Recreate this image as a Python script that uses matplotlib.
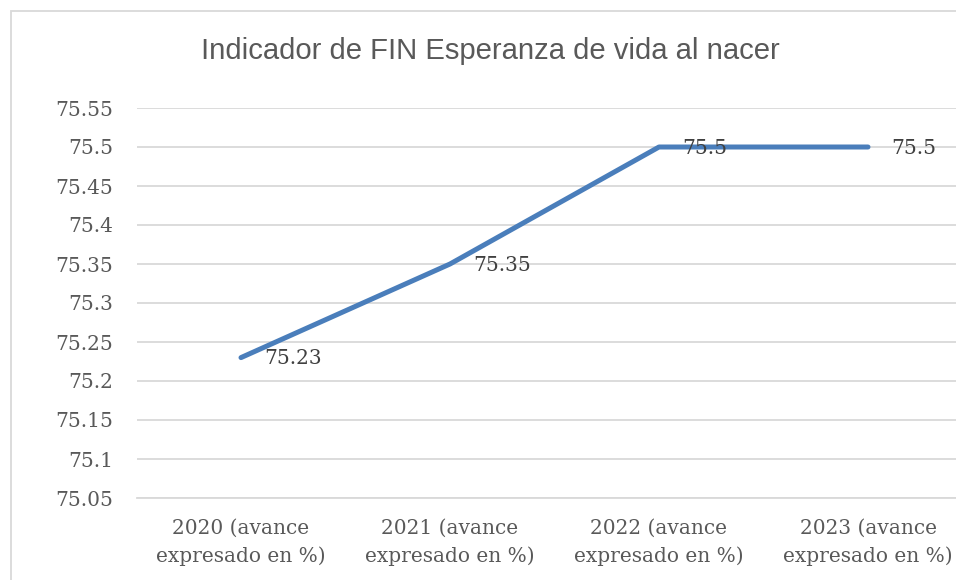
import matplotlib
matplotlib.use("Agg")
import matplotlib.pyplot as plt
from matplotlib.patches import Rectangle

categories = ["2020 (avance\nexpresado en %)", "2021 (avance\nexpresado en %)",
              "2022 (avance\nexpresado en %)", "2023 (avance\nexpresado en %)"]
values = [75.23, 75.35, 75.5, 75.5]
labels = ["75.23", "75.35", "75.5", "75.5"]
yticks = [75.05, 75.1, 75.15, 75.2, 75.25, 75.3, 75.35, 75.4, 75.45, 75.5, 75.55]
ytick_labels = ["75.05", "75.1", "75.15", "75.2", "75.25", "75.3", "75.35",
                "75.4", "75.45", "75.5", "75.55"]

W, H = 956, 580
fig = plt.figure(figsize=(W / 100, H / 100), dpi=100)
fig.patch.set_facecolor("white")

# chart border (cropped at right and bottom)
fig.patches.append(Rectangle((11 / W, -0.1), 2.0, 1 - 11 / H + 0.1,
                             transform=fig.transFigure, fill=False,
                             edgecolor="#D9D9D9", linewidth=1.3))

left, right = 136.5 / W, 972.5 / W
bottom, top = 1 - 498 / H, 1 - 108 / H
ax = fig.add_axes([left, bottom, right - left, top - bottom])
ax.set_facecolor("none")

x = list(range(len(values)))
ax.plot(x, values, color="#4A7EBB", linewidth=3.6, solid_capstyle="round", zorder=3)

serif = "DejaVu Serif"
fs = 14.5
for xi, v, lab in zip(x, values, labels):
    ax.annotate(lab, (xi, v), xytext=(23, -1), textcoords="offset pixels",
                ha="left", va="center", fontsize=fs, family=serif,
                color="#404040", zorder=4)

ax.set_xlim(-0.5, len(values) - 0.5)
ax.set_ylim(75.05, 75.55)
ax.set_yticks(yticks)
ax.set_yticklabels(ytick_labels, family=serif, fontsize=fs, color="#595959")
ax.set_xticks(x)
ax.set_xticklabels(categories, family=serif, fontsize=fs, color="#595959",
                   linespacing=1.55)
ax.tick_params(axis="both", length=0)
ax.tick_params(axis="y", pad=17)
ax.tick_params(axis="x", pad=15)
ax.grid(axis="y", color="#D9D9D9", linewidth=1.3)
ax.set_axisbelow(True)
for s in ["top", "right", "left"]:
    ax.spines[s].set_visible(False)
ax.spines["bottom"].set_color("#D9D9D9")
ax.spines["bottom"].set_linewidth(1.3)

fig.text(490.5 / W, 1 - 51 / H, "Indicador de FIN Esperanza de vida al nacer",
         ha="center", va="center", fontsize=21.1, family="Liberation Sans",
         color="#595959")

fig.savefig("out.png", dpi=100)
